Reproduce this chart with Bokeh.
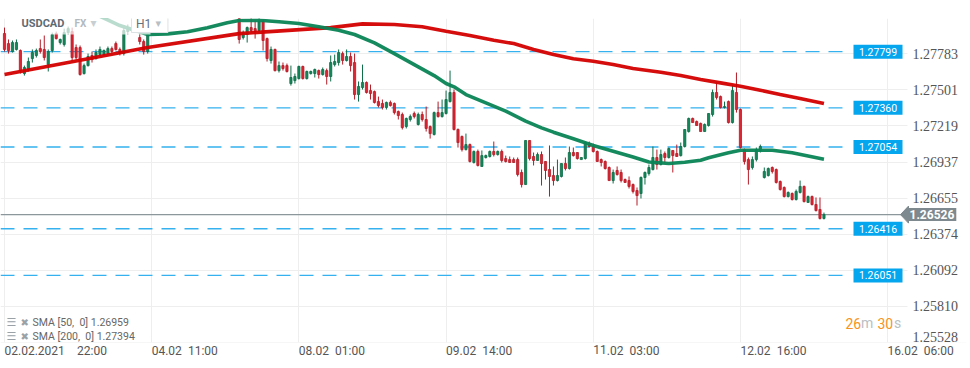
import numpy as np
from bokeh.plotting import figure
from bokeh.models import Range1d, FixedTicker, PrintfTickFormatter, Label
from bokeh.core.properties import value
from bokeh.embed import file_html
from bokeh.resources import INLINE

# ---------------- data ----------------
symbol = "USDCAD"
x_tick_bars = [0, 37, 74, 111, 148, 185, 222]
x_tick_labels = ["02.02.2021\u2002\u200222:00", "04.02\u200211:00", "08.02\u200201:00",
                 "09.02\u200214:00", "11.02\u200203:00", "12.02\u200216:00", "16.02\u200206:00"]
y_ticks = [1.25528, 1.25810, 1.26092, 1.26374, 1.26655, 1.26937, 1.27219, 1.27501, 1.27783]
levels = [1.27799, 1.27360, 1.27054, 1.26416, 1.26051]
level_labels = ["1.27799", "1.27360", "1.27054", "1.26416", "1.26051"]
last_price = 1.26526
sma50_last = 1.26959
sma200_last = 1.27394

N = None
gap = [N] * 22  # bars 37-58 lie above the visible price window

open_ = [1.27941, 1.27862, 1.27800, 1.27816, 1.27808, 1.27628, 1.27659, 1.27745, 1.27769, 1.27823,
         1.27816, 1.27698, 1.27808, 1.27941, 1.27870, 1.27855, 1.27948, 1.27956, 1.27831, 1.27831,
         1.27628, 1.27690, 1.27769, 1.27745, 1.27776, 1.27776, 1.27784, 1.27823, 1.27862, 1.27816,
         1.27784, 1.27956, 1.27964, 1.27979, 1.27909, 1.27878, 1.27800] + gap + [
         1.28065, 1.27909, 1.27933, 1.27987, 1.27979, 1.27964, 1.28034, 1.27901, 1.27730, 1.27816, 1.27651,
         1.27690, 1.27690, 1.27550, 1.27573, 1.27589, 1.27683, 1.27589, 1.27628, 1.27628, 1.27651,
         1.27620, 1.27651, 1.27605, 1.27698, 1.27714, 1.27784, 1.27730, 1.27761, 1.27714, 1.27464,
         1.27519, 1.27558, 1.27495, 1.27487, 1.27409, 1.27394, 1.27363, 1.27402, 1.27394, 1.27331,
         1.27308, 1.27214, 1.27269, 1.27316, 1.27230, 1.27308, 1.27269, 1.27214, 1.27152, 1.27323,
         1.27292, 1.27316, 1.27409, 1.27480, 1.27191, 1.27136, 1.27034, 1.27073, 1.26933, 1.27019,
         1.26902, 1.26972, 1.26980, 1.27019, 1.26995, 1.27019, 1.26964, 1.26956, 1.26956, 1.26956,
         1.26855, 1.26761, 1.27105, 1.26980, 1.26949, 1.26995, 1.26941, 1.26878, 1.26831, 1.26792,
         1.26824, 1.26925, 1.26886, 1.27011, 1.27011, 1.26956, 1.26964, 1.27081, 1.27058, 1.27019,
         1.26956, 1.26941, 1.26894, 1.26792, 1.26871, 1.26855, 1.26800, 1.26792, 1.26761, 1.26714,
         1.26691, 1.26816, 1.26847, 1.26878, 1.26972, 1.26917, 1.27003, 1.26972, 1.27027, 1.27003,
         1.26987, 1.27058, 1.27175, 1.27277, 1.27253, 1.27238, 1.27175, 1.27222, 1.27308, 1.27480,
         1.27448, 1.27363, 1.27409, 1.27245, 1.27480, 1.27347, 1.27034, 1.26956, 1.26894, 1.26956,
         1.27027, 1.26816, 1.26831, 1.26894, 1.26878, 1.26785, 1.26738, 1.26667, 1.26691, 1.26644,
         1.26699, 1.26746, 1.26621, 1.26667, 1.26605, 1.26566, 1.26496]

high = [1.27987, 1.27894, 1.27886, 1.27894, 1.27816, 1.27690, 1.27753, 1.27816, 1.27823, 1.27894,
        1.27925, 1.27816, 1.27948, 1.27956, 1.27901, 1.27979, 1.27995, 1.27987, 1.27855, 1.27847,
        1.27706, 1.27784, 1.27800, 1.27816, 1.27839, 1.27816, 1.27839, 1.27839, 1.27878, 1.27831,
        1.27987, 1.28011, 1.28003, 1.28003, 1.27948, 1.27894, 1.27956] + gap + [
        1.28073, 1.27964, 1.27995, 1.28065, 1.28042, 1.28073, 1.28050, 1.27909, 1.27839, 1.27823, 1.27722,
        1.27714, 1.27706, 1.27690, 1.27628, 1.27690, 1.27690, 1.27651, 1.27651, 1.27667, 1.27659,
        1.27675, 1.27667, 1.27769, 1.27776, 1.27816, 1.27800, 1.27816, 1.27792, 1.27784, 1.27566,
        1.27698, 1.27566, 1.27542, 1.27495, 1.27448, 1.27425, 1.27409, 1.27417, 1.27402, 1.27339,
        1.27323, 1.27284, 1.27308, 1.27331, 1.27323, 1.27331, 1.27370, 1.27222, 1.27331, 1.27409,
        1.27425, 1.27495, 1.27651, 1.27503, 1.27199, 1.27144, 1.27159, 1.27081, 1.27027, 1.27034,
        1.27027, 1.26995, 1.27027, 1.27097, 1.27027, 1.27034, 1.26987, 1.26980, 1.26972, 1.26972,
        1.26878, 1.27105, 1.27105, 1.27011, 1.27011, 1.27019, 1.26941, 1.27066, 1.26902, 1.26956,
        1.26925, 1.26972, 1.27058, 1.27050, 1.27011, 1.26972, 1.27089, 1.27097, 1.27081, 1.27027,
        1.26964, 1.26949, 1.26902, 1.26878, 1.26902, 1.26878, 1.26808, 1.26824, 1.26769, 1.26738,
        1.26824, 1.26863, 1.26917, 1.27058, 1.27034, 1.27034, 1.27019, 1.27050, 1.27027, 1.27073,
        1.27089, 1.27191, 1.27284, 1.27284, 1.27261, 1.27245, 1.27238, 1.27316, 1.27503, 1.27558,
        1.27456, 1.27409, 1.27417, 1.27534, 1.27636, 1.27355, 1.27042, 1.26972, 1.26980, 1.27050,
        1.27073, 1.26894, 1.26894, 1.26902, 1.26886, 1.26792, 1.26746, 1.26707, 1.26699, 1.26722,
        1.26792, 1.26753, 1.26675, 1.26675, 1.26660, 1.26660, 1.26542]

low = [1.27800, 1.27784, 1.27792, 1.27808, 1.27628, 1.27612, 1.27644, 1.27714, 1.27753, 1.27784,
       1.27730, 1.27644, 1.27792, 1.27894, 1.27855, 1.27839, 1.27933, 1.27722, 1.27737, 1.27612,
       1.27620, 1.27683, 1.27714, 1.27737, 1.27761, 1.27769, 1.27776, 1.27784, 1.27808, 1.27769,
       1.27769, 1.27933, 1.27948, 1.27956, 1.27855, 1.27776, 1.27784] + gap + [
       1.27862, 1.27894, 1.27870, 1.27948, 1.27901, 1.27948, 1.27808, 1.27722, 1.27706, 1.27644, 1.27636,
       1.27651, 1.27636, 1.27534, 1.27550, 1.27581, 1.27581, 1.27581, 1.27620, 1.27597, 1.27589,
       1.27612, 1.27542, 1.27566, 1.27683, 1.27690, 1.27698, 1.27722, 1.27644, 1.27425, 1.27409,
       1.27503, 1.27472, 1.27425, 1.27394, 1.27363, 1.27347, 1.27347, 1.27370, 1.27308, 1.27269,
       1.27191, 1.27199, 1.27253, 1.27277, 1.27222, 1.27253, 1.27175, 1.27120, 1.27144, 1.27284,
       1.27284, 1.27308, 1.27402, 1.27183, 1.27050, 1.27019, 1.27027, 1.26933, 1.26925, 1.26902,
       1.26902, 1.26964, 1.26972, 1.26980, 1.26987, 1.26933, 1.26933, 1.26933, 1.26933, 1.26824,
       1.26738, 1.26761, 1.26949, 1.26910, 1.26949, 1.26753, 1.26800, 1.26667, 1.26753, 1.26785,
       1.26816, 1.26871, 1.26878, 1.26980, 1.26956, 1.26956, 1.26956, 1.27050, 1.27011, 1.26941,
       1.26902, 1.26878, 1.26792, 1.26769, 1.26831, 1.26777, 1.26777, 1.26730, 1.26691, 1.26597,
       1.26652, 1.26761, 1.26831, 1.26871, 1.26878, 1.26910, 1.26933, 1.26964, 1.26855, 1.26980,
       1.26980, 1.27050, 1.27167, 1.27245, 1.27222, 1.27175, 1.27175, 1.27214, 1.27292, 1.27425,
       1.27355, 1.27355, 1.27238, 1.27238, 1.27323, 1.27042, 1.26917, 1.26761, 1.26878, 1.26941,
       1.27011, 1.26808, 1.26824, 1.26847, 1.26769, 1.26714, 1.26660, 1.26660, 1.26636, 1.26636,
       1.26691, 1.26621, 1.26621, 1.26597, 1.26550, 1.26488, 1.26488]

close = [1.27816, 1.27808, 1.27870, 1.27870, 1.27651, 1.27675, 1.27722, 1.27792, 1.27808, 1.27800,
         1.27753, 1.27800, 1.27933, 1.27901, 1.27894, 1.27948, 1.27979, 1.27753, 1.27753, 1.27620,
         1.27690, 1.27761, 1.27737, 1.27792, 1.27816, 1.27808, 1.27823, 1.27800, 1.27816, 1.27784,
         1.27964, 1.27979, 1.27979, 1.27972, 1.27878, 1.27800, 1.27933] + gap + [
         1.27894, 1.27948, 1.27987, 1.27964, 1.27956, 1.28034, 1.27886, 1.27745, 1.27816, 1.27651, 1.27690,
         1.27667, 1.27644, 1.27597, 1.27605, 1.27683, 1.27589, 1.27644, 1.27644, 1.27659, 1.27620,
         1.27659, 1.27605, 1.27714, 1.27722, 1.27792, 1.27730, 1.27761, 1.27690, 1.27464, 1.27527,
         1.27558, 1.27480, 1.27472, 1.27402, 1.27378, 1.27363, 1.27402, 1.27378, 1.27323, 1.27300,
         1.27206, 1.27277, 1.27292, 1.27292, 1.27308, 1.27269, 1.27199, 1.27159, 1.27323, 1.27292,
         1.27323, 1.27425, 1.27480, 1.27191, 1.27089, 1.27034, 1.27073, 1.26941, 1.27019, 1.26910,
         1.26987, 1.26987, 1.27019, 1.26995, 1.27019, 1.26949, 1.26941, 1.26933, 1.26933, 1.26839,
         1.26761, 1.27105, 1.26964, 1.26949, 1.26995, 1.26925, 1.26871, 1.26824, 1.26792, 1.26831,
         1.26925, 1.26886, 1.27011, 1.26987, 1.26964, 1.26972, 1.27089, 1.27058, 1.27019, 1.26941,
         1.26933, 1.26886, 1.26792, 1.26855, 1.26839, 1.26792, 1.26777, 1.26746, 1.26707, 1.26675,
         1.26816, 1.26855, 1.26894, 1.26972, 1.26917, 1.26995, 1.26972, 1.27042, 1.26987, 1.26980,
         1.27058, 1.27191, 1.27277, 1.27245, 1.27222, 1.27175, 1.27230, 1.27316, 1.27480, 1.27441,
         1.27363, 1.27370, 1.27245, 1.27495, 1.27347, 1.27050, 1.26941, 1.26878, 1.26956, 1.27034,
         1.27058, 1.26863, 1.26886, 1.26863, 1.26777, 1.26722, 1.26667, 1.26699, 1.26644, 1.26707,
         1.26746, 1.26628, 1.26667, 1.26605, 1.26558, 1.26496, 1.26526]

sma200_bar = [0, 36, 59, 82, 90, 98, 105, 111, 117, 123, 128, 133, 138, 143, 148, 153, 158,
              165, 170, 175, 180, 185, 190, 195, 200, 206]
sma200 = [1.27620, 1.27831, 1.27940, 1.27987, 1.28016, 1.28011, 1.27993, 1.27958, 1.27925,
          1.27888, 1.27862, 1.27816, 1.27776, 1.27743, 1.27724, 1.27698, 1.27667, 1.27638,
          1.27612, 1.27581, 1.27555, 1.27529, 1.27498, 1.27464, 1.27433, 1.27394]

sma50_bar = [20, 24, 29, 36, 41, 46, 51, 56, 59, 64, 69, 74, 79, 84, 88, 93, 98, 103, 108, 111,
             113, 116, 121, 126, 131, 135, 138, 143, 148, 153, 158, 162, 167, 171, 175, 177, 182,
             185, 193, 198, 206]
sma50 = [1.28130, 1.28075, 1.28003, 1.27933, 1.27938, 1.27954, 1.27985, 1.28024, 1.28042, 1.28044,
         1.28032, 1.28019, 1.27993, 1.27966, 1.27933, 1.27868, 1.27784, 1.27698, 1.27612, 1.27550,
         1.27524, 1.27464, 1.27399, 1.27334, 1.27256, 1.27204, 1.27170, 1.27118, 1.27066, 1.27021,
         1.26976, 1.26937, 1.26925, 1.26935, 1.26951, 1.26970, 1.27009, 1.27029, 1.27029, 1.27009,
         1.26959]

# ---------------- layout helpers (screen px of the page) ----------------
FW = 966                    # frame width (px)
FT, FB = 18, 342            # frame top / bottom (px)
DX, X0PX = 3.978, 4.0       # px per bar, px of bar 0
X_START = -X0PX / DX
X_END = X_START + FW / DX
Y_TOP, Y_BOT = 1.28058, 1.25527
AX_PX = 907                 # right edge of the plotting area (price scale starts here)

def px2x(X):
    return X_START + X / DX

def pyspan(px):
    return px * (Y_TOP - Y_BOT) / (FB - FT)

p = figure(frame_width=FW, frame_height=FB - FT, output_backend="svg", toolbar_location=None,
           x_range=Range1d(X_START, X_END), y_range=Range1d(Y_BOT, Y_TOP),
           y_axis_location="right", min_border_left=0, min_border_right=0,
           min_border_top=FT, min_border_bottom=0)
p.outline_line_color = None
p.background_fill_color = "white"
p.border_fill_color = "white"

# x axis: labels start at their grid line
xa = p.xaxis[0]
xa.ticker = FixedTicker(ticks=x_tick_bars)
xa.major_label_overrides = {b: t for b, t in zip(x_tick_bars, x_tick_labels)}
xa.major_label_orientation = -1e-6
xa.axis_line_color = None
xa.major_tick_line_color = None
xa.minor_tick_line_color = None
xa.major_tick_out = 0
xa.major_label_standoff = 8
xa.major_label_text_font = "Roboto"
xa.major_label_text_font_size = "12px"
xa.major_label_text_color = "#555555"

# price axis, drawn at the right edge of the plotting area
ya = p.yaxis[0]
ya.fixed_location = px2x(AX_PX)
ya.ticker = FixedTicker(ticks=y_ticks)
ya.formatter = PrintfTickFormatter(format="%.5f")
ya.major_label_overrides = {y_ticks[0]: ""}   # bottom label is lifted inside the frame below
ya.axis_line_color = None
ya.major_tick_line_color = None
ya.minor_tick_line_color = None
ya.major_tick_out = 0
ya.major_tick_in = 0
ya.major_label_standoff = 5
ya.major_label_text_font = "Liberation Sans Narrow"
ya.major_label_text_font_size = "14px"
ya.major_label_text_color = "#555555"

p.xgrid.grid_line_color = "#eeeeee"
p.ygrid.grid_line_color = "#eeeeee"

# blank price-scale strip (hides grid lines right of the plotting area)
p.quad(left=px2x(AX_PX), right=X_END + 1, top=Y_TOP + 0.001, bottom=Y_BOT - 0.001,
       fill_color="white", line_color=None)

# horizontal levels and current price line
x_lvl_end = px2x(845)
for lv in levels:
    p.segment(x0=X_START, y0=lv, x1=x_lvl_end, y1=lv, line_color="#35b1ef",
              line_width=1.4, line_dash="14 9")
p.segment(x0=X_START, y0=last_price, x1=px2x(AX_PX), y1=last_price,
          line_color="#8c979b", line_width=1.2)

# candles
o = np.array(open_, dtype=float)
h = np.array(high, dtype=float)
l = np.array(low, dtype=float)
c = np.array(close, dtype=float)
idx = np.arange(len(o))
up = c >= o
dn = c < o
GREEN, GREEN_D = "#14885b", "#0d6c47"
RED, RED_D = "#dc2633", "#b31b26"
p.segment(x0=idx[up], y0=l[up], x1=idx[up], y1=h[up], line_color=GREEN_D, line_width=1)
p.segment(x0=idx[dn], y0=l[dn], x1=idx[dn], y1=h[dn], line_color=RED_D, line_width=1)
p.vbar(x=idx[up], width=0.55, top=c[up], bottom=o[up], fill_color=GREEN, line_color=GREEN_D, line_width=0.8)
p.vbar(x=idx[dn], width=0.55, top=o[dn], bottom=c[dn], fill_color=RED, line_color=RED_D, line_width=0.8)

# moving averages
p.line(sma200_bar, sma200, line_color="#d40000", line_width=3.6, line_alpha=0.95)
p.line(sma50_bar, sma50, line_color="#0a8456", line_width=3.6, line_alpha=0.95)

# faded header strip (top-left)
p.quad(left=px2x(14), right=px2x(150), top=Y_TOP + 0.001, bottom=Y_TOP - pyspan(16),
       fill_color="white", fill_alpha=0.7, line_color=None)

# level boxes
box_x = px2x(877.5)
p.rect(x=[box_x] * len(levels), y=levels, width=49, height=14, width_units="screen",
       height_units="screen", fill_color="#06a6ee", line_color=None)
p.text(x=[box_x] * len(levels), y=levels, text=level_labels, text_align="center",
       text_baseline="middle", text_color="white", text_font=value("Roboto"),
       text_font_size="10.5px")

# current price tag
TAG = "#7d898e"
p.patch(x=[px2x(900), px2x(908), px2x(908)],
        y=[last_price, last_price + pyspan(8.5), last_price - pyspan(8.5)],
        fill_color=TAG, line_color=TAG)
p.add_layout(Label(x=907, y=last_price, x_units="screen", y_units="data", text="%.5f" % last_price,
                   text_align="left", text_baseline="middle", text_font="Roboto",
                   text_font_style="bold", text_font_size="12px", text_color="white",
                   background_fill_color=TAG, padding=2))

def slabel(X, Y, text, size="11px", color="#666666", style="normal", font="Roboto", **kw):
    p.add_layout(Label(x=X, y=FB - Y, x_units="screen", y_units="screen",
                       text=text, text_align="left", text_baseline="middle",
                       text_font=font, text_font_size=size, text_color=color,
                       text_font_style=style, **kw))

# bottom price label, lifted to stay inside the chart like the original
slabel(912, 336.5, "%.5f" % y_ticks[0], size="14px", color="#555555", font="Liberation Sans Narrow")

# header
slabel(21, 23, symbol, size="11px", color="#5f6b73", style="bold")
slabel(74, 23, "FX", size="10px", color="#b2babf", style="bold")
slabel(90, 22, "\u25BE", size="12px", color="#c8cfd3", font="DejaVu Sans")
slabel(131, 23, "\u2009H1\u2003\u2009", size="12px", color="#66707a",
       background_fill_color="white", border_line_color="#dde2e5", padding=2)
slabel(155, 23, "\u25BE", size="11px", color="#b8c0c5", font="DejaVu Sans")

# indicator legend
for yy, txt in [(321.5, "SMA [50,\u20020] %.5f" % sma50_last), (336, "SMA [200,\u20020] %.5f" % sma200_last)]:
    slabel(6, yy, "\u2630", size="11px", color="#9aa2a7", font="DejaVu Sans")
    slabel(20, yy, "\u2716", size="10px", color="#9aa2a7", font="DejaVu Sans")
    slabel(32, yy, txt, size="10.5px", color="#666666")

# countdown
slabel(845, 322.5, "26", size="14px", color="#f7931e")
slabel(860.5, 322.5, "m", size="14px", color="#b9bfc3")
slabel(877, 322.5, "30", size="14px", color="#f7931e")
slabel(893.5, 322.5, "s", size="14px", color="#b9bfc3")

open("out.html", "w").write(file_html(p, INLINE))
